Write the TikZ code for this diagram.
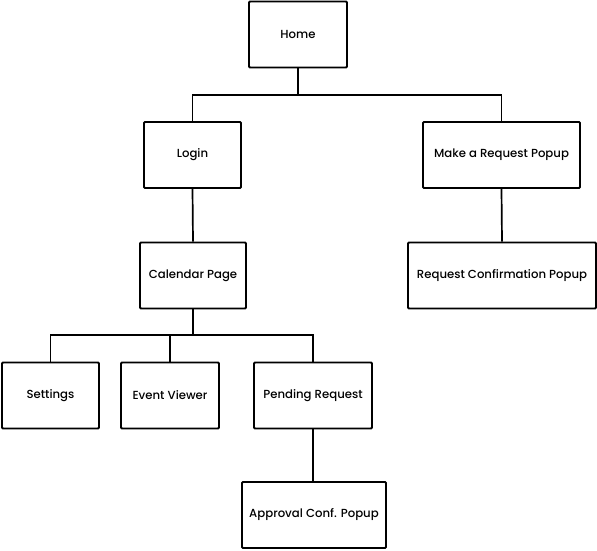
\documentclass[tikz,border=0pt]{standalone}
\usepackage{fontspec}
\setmainfont{Poppins}[UprightFont=* Medium]
\begin{document}
\begin{tikzpicture}[x=1pt,y=-1pt,
  page/.style={draw=black, line width=1.8pt, fill=white, minimum height=66pt,
    inner sep=2pt, font=\fontsize{11.7}{14}\selectfont, rounded corners=1pt},
  link/.style={draw=black, line width=1.7pt}]
\useasboundingbox (0,0) rectangle (597,550);

% pages of the site map
\node[page, minimum width=98pt]  (home)     at (298,34.5)  {Home};
\node[page, minimum width=97pt]  (login)    at (192.5,155) {Login};
\node[page, minimum width=157pt] (request)  at (501.5,155) {Make a Request Popup};
\node[page, minimum width=106pt] (calendar) at (193,275.5) {Calendar Page};
\node[page, minimum width=188pt] (confirm)  at (502,275.5) {Request Confirmation Popup};
\node[page, minimum width=97pt]  (settings) at (50.5,395.5) {Settings};
\node[page, minimum width=98pt]  (viewer)   at (170,395.5) {Event Viewer};
\node[page, minimum width=118pt] (pending)  at (313,395.5) {Pending Request};
\node[page, minimum width=144pt] (approval) at (314,515)   {Approval Conf. Popup};

% bus lines joining parents to children
\coordinate (bus1) at (298,95);
\coordinate (bus2) at (193,335);

\draw[link] (home.south) -- (home.south |- bus1) -| (login.north);
\draw[link] (home.south |- bus1) -| (request.north);
\draw[link] (login.south) -- (calendar.north);
\draw[link] (request.south) -- (confirm.north);
\draw[link] (calendar.south) -- (calendar.south |- bus2) -| (settings.north);
\draw[link] (calendar.south |- bus2) -| (viewer.north);
\draw[link] (calendar.south |- bus2) -| (pending.north);
\draw[link] (pending.south) -- (pending.south |- approval.north);
\end{tikzpicture}
\end{document}
